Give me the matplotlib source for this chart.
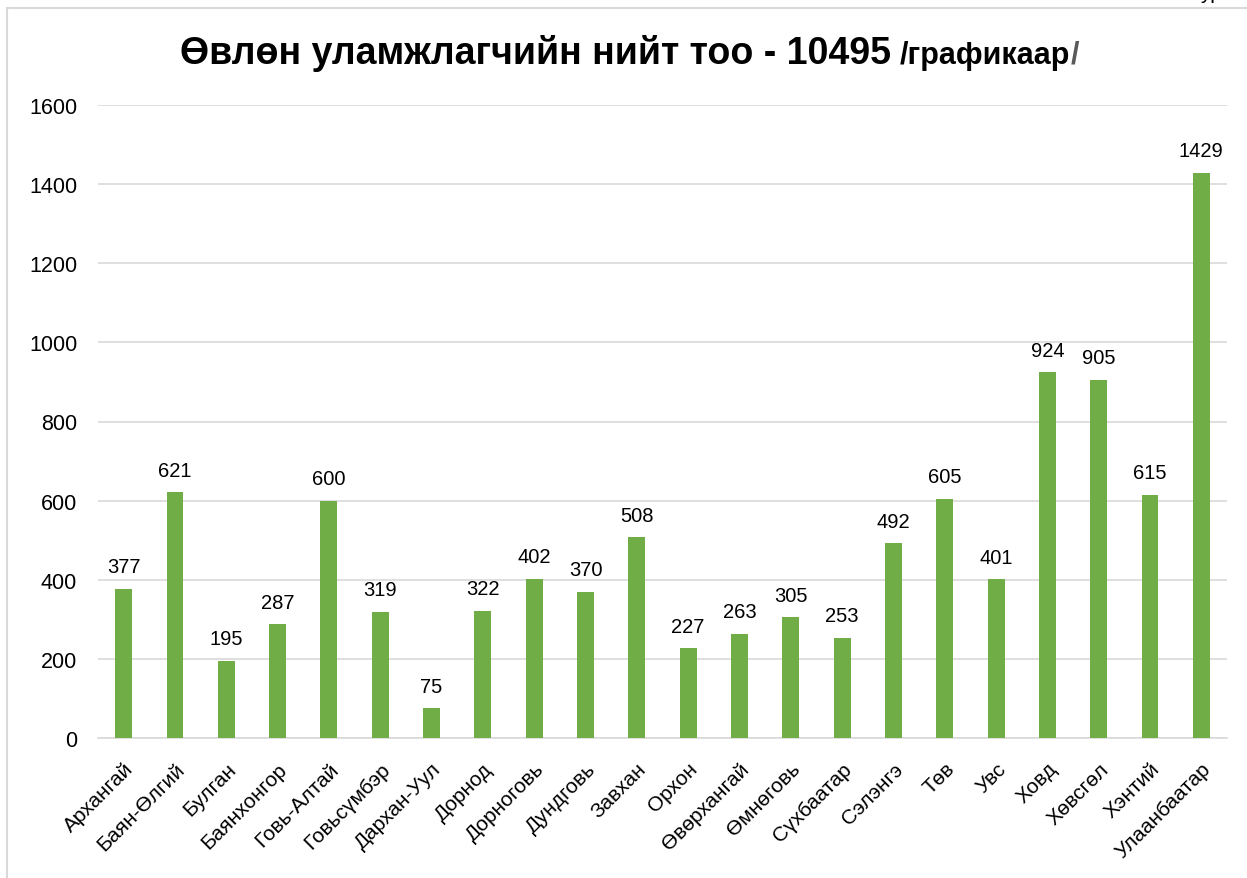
import numpy as np
import matplotlib.pyplot as plt
from matplotlib.patches import Rectangle

plt.rcParams['font.family'] = ['Liberation Sans', 'DejaVu Sans']

aimags = ['Архангай', 'Баян-Өлгий', 'Булган', 'Баянхонгор', 'Говь-Алтай', 'Говьсүмбэр',
          'Дархан-Уул', 'Дорнод', 'Дорноговь', 'Дундговь', 'Завхан', 'Орхон',
          'Өвөрхангай', 'Өмнөговь', 'Сүхбаатар', 'Сэлэнгэ', 'Төв', 'Увс', 'Ховд',
          'Хөвсгөл', 'Хэнтий', 'Улаанбаатар']
counts = [377, 621, 195, 287, 600, 319, 75, 322, 402, 370, 508, 227,
          263, 305, 253, 492, 605, 401, 924, 905, 615, 1429]
yticks = [0, 200, 400, 600, 800, 1000, 1200, 1400, 1600]

W, H = 1247, 879
fig = plt.figure(figsize=(W / 100, H / 100), dpi=100)

# outer chart border (cropped at right and bottom)
fig.patches.append(Rectangle((7 / W, -0.05), 1.2, 1 - 9 / H + 0.05, transform=fig.transFigure,
                             fill=False, edgecolor='#D9D9D9', linewidth=1.5))
# text cut off above the crop, only its bottom shows
fig.text(1200 / W, 1 + 1 / H, 'ур', fontsize=15, ha='left', va='baseline')

ax = fig.add_axes([98 / W, 1 - 739 / H, (1227 - 98) / W, (739 - 106) / H])
x = np.arange(len(aimags))
bars = ax.bar(x, counts, width=0.33, color='#70AD47', zorder=3)

for xi, v in zip(x, counts):
    ax.annotate(str(v), (xi, v), xytext=(0, 9), textcoords='offset points',
                ha='center', va='bottom', fontsize=14.5)

ax.set_xlim(-0.5, len(aimags) - 0.5)
ax.set_ylim(0, 1600)
ax.set_yticks(yticks)
ax.set_yticklabels([str(t) for t in yticks], fontsize=15.5)
ax.grid(axis='y', color='#D9D9D9', linewidth=1.2, zorder=0)
ax.set_xticks(x)
ax.set_xticklabels(aimags, rotation=45, ha='right', rotation_mode='anchor', fontsize=15)
ax.tick_params(axis='both', length=0)
ax.tick_params(axis='y', pad=15)
ax.tick_params(axis='x', pad=15)
for s in ['top', 'right', 'left']:
    ax.spines[s].set_visible(False)
ax.spines['bottom'].set_color('#D9D9D9')
ax.spines['bottom'].set_linewidth(1.2)

# title: main part + smaller suffix, last slash grey
t1 = fig.text(180 / W, 1 - 64 / H, 'Өвлөн уламжлагчийн нийт тоо - 10495', fontsize=27,
              fontweight='bold', ha='left', va='baseline')
fig.canvas.draw()
bb = t1.get_window_extent()
t2 = fig.text((bb.x1 + 9) / W, 1 - 64 / H, '/графикаар', fontsize=22, fontweight='bold',
              ha='left', va='baseline')
bb2 = t2.get_window_extent()
fig.text(bb2.x1 / W, 1 - 64 / H, '/', fontsize=22, fontweight='bold', color='#595959',
         ha='left', va='baseline')

fig.savefig('out.png', dpi=100)
